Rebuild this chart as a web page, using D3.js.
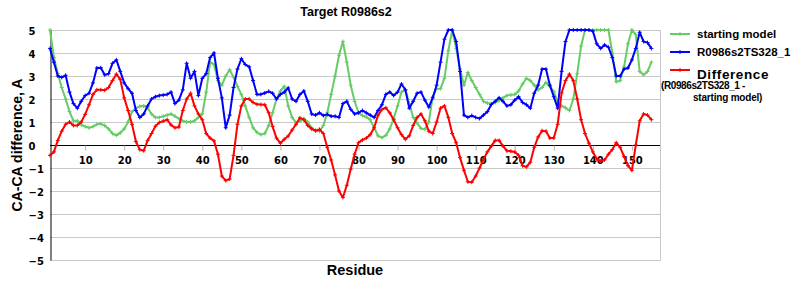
<!DOCTYPE html>
<html>
<head>
<meta charset="utf-8">
<script src="https://cdn.jsdelivr.net/npm/d3@7"></script>
<style>
  body { margin: 0; background: #fff; }
  svg text { font-family: "Liberation Sans", Arial, sans-serif; font-weight: bold; }
</style>
</head>
<body>
<div id="chart"></div>
<script>
const title = 'Target R0986s2'
const y_title = 'CA-CA difference, A'
const x_title = 'Residue'
const series_names = ['starting model', 'R0986s2TS328_1', 'Difference']
const series_colors = ['#66cc66', '#0000ff', '#ff0000']

const x_ticks = [10, 20, 30, 40, 50, 60, 70, 80, 90, 100, 110, 120, 130, 140, 150]
const y_ticks = [5, 4, 3, 2, 1, 0, -1, -2, -3, -4, -5]

// starting model, residues 1..155
const starting_model = [
  5.0, 3.8, 3.1, 2.5, 2.0, 1.45, 1.05, 1.05, 0.88, 0.8,
  0.75, 0.8, 0.9, 0.92, 0.85, 0.7, 0.5, 0.42, 0.53, 0.7,
  1.0, 1.45, 1.6, 1.68, 1.7, 1.62, 1.35, 1.2, 1.2, 1.25,
  1.3, 1.35, 1.25, 1.15, 1.05, 1.0, 1.0, 1.05, 1.2, 1.35,
  2.3, 3.6, 3.5, 2.8, 2.6, 3.0, 3.27, 2.95, 2.55, 2.2,
  1.7, 1.2, 0.75, 0.55, 0.45, 0.5, 0.85, 1.4, 2.0, 2.35,
  2.55, 1.7, 1.2, 0.97, 1.04, 1.15, 1.0, 0.75, 0.62, 0.6,
  0.85, 1.4, 2.2, 3.0, 3.9, 4.5, 3.6, 2.6, 1.9, 1.4,
  1.28, 1.22, 1.1, 0.75, 0.4, 0.32, 0.42, 0.7, 1.15, 1.7,
  2.3, 2.4, 1.8, 1.2, 0.95, 0.72, 0.68, 1.0, 2.1, 2.45,
  2.45, 2.9, 4.1, 5.0, 4.2, 3.3, 2.6, 3.15, 2.8, 2.5,
  2.2, 1.9, 1.82, 1.8, 1.85, 1.93, 2.05, 2.15, 2.18, 2.2,
  2.35, 2.65, 2.9, 2.8, 2.6, 2.4, 2.5, 2.72, 2.55, 2.33,
  1.85, 1.7, 1.62, 1.5, 2.0, 3.1, 4.3, 5.0, 5.0, 5.0,
  5.0, 5.0, 5.0, 5.0, 4.0, 2.75, 2.8, 3.4, 4.4, 5.0,
  4.8, 3.2, 3.05, 3.2, 3.6
]

const model_ts328 = [
  4.2, 3.6, 3.0, 2.94, 3.03, 2.3, 1.8, 1.6, 1.9, 2.15,
  2.25, 2.7, 3.35, 3.36, 3.05, 3.1, 3.55, 3.7, 3.2, 2.7,
  2.45, 2.25, 1.5, 1.2, 1.35, 1.7, 2.0, 2.1, 2.15, 2.17,
  2.2, 2.3, 1.8, 1.95, 2.4, 3.55, 2.9, 3.2, 2.15, 2.9,
  3.1, 3.8, 4.0, 2.9, 2.05, 0.75, 1.3, 2.5, 3.3, 3.75,
  3.5, 3.4, 2.8, 2.2, 2.2, 2.26, 2.33, 2.25, 2.0, 2.2,
  2.3, 2.48, 2.0, 1.9, 2.2, 2.35, 1.9, 1.35, 1.3, 1.4,
  1.28, 1.33, 1.25, 1.25, 1.2, 1.8, 1.9, 1.55, 1.35, 1.4,
  1.5, 1.4, 1.3, 1.2, 1.5, 1.75, 2.2, 2.3, 2.15, 2.3,
  2.65, 2.4, 1.6, 1.9, 2.25, 2.3, 1.95, 1.65, 2.05, 2.6,
  3.6, 4.6, 5.0, 5.0, 4.5, 3.2, 1.3, 1.2, 1.28, 1.2,
  1.15, 1.3, 1.45, 1.76, 1.9, 2.05, 1.9, 1.7, 1.75, 1.95,
  2.1, 1.85, 1.75, 1.6, 2.25, 2.6, 3.3, 3.3, 2.6, 2.1,
  1.6, 3.2, 4.5, 5.0, 5.0, 5.0, 5.0, 5.0, 5.0, 4.95,
  4.4, 4.2, 4.35, 4.25, 3.8, 3.0, 3.0, 3.3, 3.35, 3.7,
  4.2, 4.9, 4.5, 4.45, 4.2
]

const difference = [
  -0.45, -0.3, 0.2, 0.6, 0.9, 1.0, 0.85, 0.85, 1.0, 1.33,
  1.75, 2.2, 2.4, 2.4, 2.38, 2.5, 2.8, 3.08, 2.85, 2.05,
  1.5, 0.9, 0.15, -0.2, -0.25, 0.2, 0.5, 0.82, 0.98, 1.04,
  1.1, 0.87, 0.75, 0.78, 1.5, 2.0, 2.25, 1.7, 1.35, 1.1,
  0.5, 0.3, 0.18, -0.4, -1.35, -1.55, -1.48, -0.45, 0.9, 1.7,
  2.0, 2.0, 1.85, 1.77, 1.76, 1.75, 1.4, 0.8, 0.3, 0.08,
  0.25, 0.39, 0.65, 0.9, 1.18, 1.1, 0.85, 0.7, 0.62, 0.68,
  0.5, -0.1, -0.65, -1.3, -2.0, -2.28, -1.75, -1.05, -0.4, 0.1,
  0.22, 0.3, 0.45, 0.75, 1.3, 1.55, 1.62, 1.4, 1.1, 0.75,
  0.45, 0.25, 0.4, 0.85, 1.2, 1.35, 1.05, 0.6, 0.5, 1.0,
  1.6, 1.7, 1.2, 0.5, 0.1, -0.55, -1.1, -1.6, -1.62, -1.35,
  -1.0, -0.62, -0.3, -0.05, 0.2, 0.2, -0.05, -0.25, -0.27, -0.3,
  -0.45, -0.9, -0.95, -0.75, -0.1, 0.35, 0.62, 0.6, 0.3, 0.3,
  0.9, 2.26, 2.8, 3.08, 2.8, 2.0, 1.1, 0.5, 0.08, -0.3,
  -0.6, -0.7, -0.65, -0.4, -0.2, 0.1, -0.1, -0.5, -0.9, -1.1,
  0.0, 1.05, 1.35, 1.3, 1.1
]

const width = 800
const height = 300
const plot = {left: 50, right: 660, top: 30, bottom: 260}

const svg = d3.select('#chart').append('svg')
  .attr('width', width)
  .attr('height', height)
  .attr('viewBox', '0,0,' + width + ',' + height)

const x = d3.scaleLinear()
  .domain([1, 157.2])
  .range([plot.left, plot.right])

const y = d3.scaleLinear()
  .domain([-5, 5])
  .range([plot.bottom, plot.top])

// gridlines
svg.append('g')
  .selectAll('line').data(y_ticks.filter(v => v != 0)).enter().append('line')
    .attr('x1', plot.left).attr('x2', plot.right)
    .attr('y1', d => y(d) + 0.5).attr('y2', d => y(d) + 0.5)
    .attr('stroke', '#c8c8c8')

svg.append('line')
  .attr('x1', plot.right + 0.5).attr('x2', plot.right + 0.5)
  .attr('y1', plot.top).attr('y2', plot.bottom + 1)
  .attr('stroke', '#c8c8c8')

// x axis on the zero line, ticks pointing down
const x_axis = g => g
  .attr('transform', `translate(0,${y(0) + 0.5})`)
  .call(
    d3.axisBottom(x)
      .tickValues(x_ticks)
      .tickSize(5)
      .tickSizeOuter(0)
      .tickPadding(6)
  )
  .call(g => g.select('.domain')
    .attr('d', `M${plot.left},0H${plot.right}`)
    .attr('stroke', '#000'))
  .call(g => g.selectAll('.tick line').attr('stroke', '#b0b0b0'))
  .call(g => g.selectAll('.tick text')
    .attr('fill', '#000')
    .style('font-family', '"DejaVu Sans", Verdana, sans-serif')
    .style('font-size', '10px'))

svg.append('g').call(x_axis)

// left axis with left-aligned labels
const y_axis = g => g
  .attr('transform', `translate(${plot.left + 0.5},0)`)
  .call(
    d3.axisLeft(y)
      .tickValues(y_ticks)
      .tickSize(0)
      .tickFormat(d => d < 0 ? '\u2212' + Math.abs(d) : String(d))
  )
  .call(g => g.select('.domain').attr('stroke', '#000'))
  .call(g => g.selectAll('.tick text')
    .attr('x', 28 - plot.left)
    .attr('dy', '0.42em')
    .attr('text-anchor', 'start')
    .attr('fill', '#000')
    .style('font-family', '"DejaVu Sans", Verdana, sans-serif')
    .style('font-size', '10px'))

svg.append('g').call(y_axis)

// series
const all_series = [starting_model, model_ts328, difference]
const line = d3.line()
  .x((d, i) => x(i + 1))
  .y(d => y(d))

const marker = 'M-2,0H2M0,-2V2'

all_series.forEach((values, k) => {
  const g = svg.append('g')
  g.append('path')
    .datum(values)
    .attr('fill', 'none')
    .attr('stroke', series_colors[k])
    .attr('stroke-width', 2)
    .attr('stroke-linejoin', 'round')
    .attr('d', line)
  g.selectAll('path.mk').data(values).enter().append('path')
    .attr('class', 'mk')
    .attr('transform', (d, i) => `translate(${x(i + 1)},${y(d)})`)
    .attr('d', marker)
    .attr('stroke', series_colors[k])
    .attr('stroke-width', 1)
})

// titles
svg.append('text')
  .attr('x', 346).attr('y', 16)
  .attr('text-anchor', 'middle')
  .style('font-size', '12.5px')
  .text(title)

svg.append('text')
  .attr('transform', 'translate(22,145) rotate(-90)')
  .attr('text-anchor', 'middle')
  .style('font-size', '14px')
  .text(y_title)

svg.append('text')
  .attr('x', 355).attr('y', 275)
  .attr('text-anchor', 'middle')
  .style('font-size', '14.5px')
  .text(x_title)

// legend
const legend_y = [34, 52, 70]
const legend = svg.append('g')
legend.selectAll('line').data(series_names).enter().append('line')
  .attr('x1', 670).attr('x2', 690)
  .attr('y1', (d, i) => legend_y[i]).attr('y2', (d, i) => legend_y[i])
  .attr('stroke', (d, i) => series_colors[i])
  .attr('stroke-width', 2)
legend.selectAll('path').data(series_names).enter().append('path')
  .attr('transform', (d, i) => `translate(680,${legend_y[i]})`)
  .attr('d', marker)
  .attr('stroke', (d, i) => series_colors[i])
legend.selectAll('text').data(series_names).enter().append('text')
  .attr('x', 697)
  .attr('y', (d, i) => legend_y[i] + (i == 2 ? 8.5 : 4))
  .style('font-size', (d, i) => i == 2 ? '13.5px' : '11.5px')
  .style('letter-spacing', (d, i) => i == 2 ? '0.6px' : '0px')
  .text(d => d)
legend.append('text')
  .attr('x', 661).attr('y', 89)
  .style('font-size', '10px')
  .style('letter-spacing', '-0.4px')
  .text('(R0986s2TS328_1 -')
legend.append('text')
  .attr('x', 693).attr('y', 101)
  .style('font-size', '10px')
  .style('letter-spacing', '-0.2px')
  .text('starting model)')
</script>
</body>
</html>
